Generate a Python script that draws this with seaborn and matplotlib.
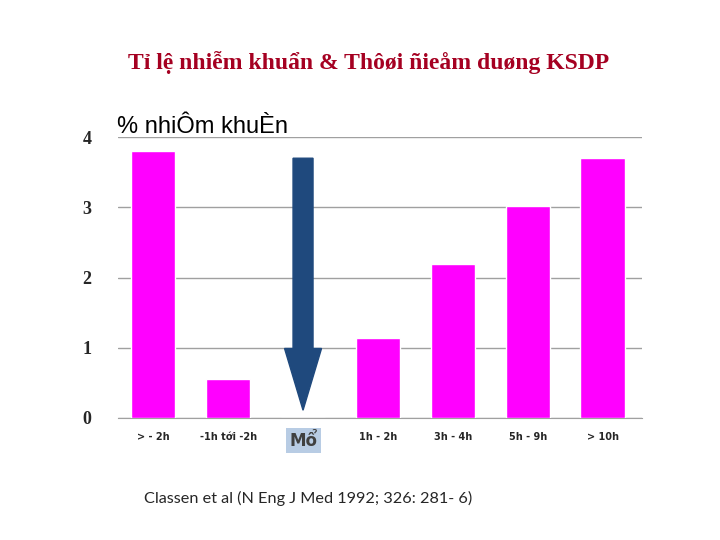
import matplotlib
matplotlib.use("Agg")
import matplotlib.pyplot as plt
import seaborn as sns
import pandas as pd

categories = ["> - 2h", "-1h tới -2h", "Mổ", "1h - 2h", "3h - 4h", "5h - 9h", "> 10h"]
rates = [3.80, 0.55, 0.0, 1.14, 2.19, 3.02, 3.70]

df = pd.DataFrame({"cat": categories, "rate": rates})

sns.set_style("white")
fig = plt.figure(figsize=(7.2, 5.4), dpi=100)
ax = fig.add_axes([0.164, 0.226, 0.728, 0.520])

sns.barplot(data=df, x="cat", y="rate", color="#FF00FF", saturation=1,
            width=0.59, ax=ax, zorder=3)

ax.set_ylim(0, 4)
ax.set_xlim(-0.47, 6.53)
ax.set_yticks([0, 1, 2, 3, 4])
ax.set_yticklabels(["0", "1", "2", "3", "4"], fontfamily="Liberation Serif",
                   fontweight="bold", fontsize=13)
ax.yaxis.grid(True, color="#A0A0A0", linewidth=1, zorder=0)
for s in ["top", "right", "left"]:
    ax.spines[s].set_visible(False)
ax.spines["bottom"].set_color("#A0A0A0")
ax.tick_params(axis="y", length=5, color="#A0A0A0", pad=14)
ax.tick_params(axis="x", length=0, pad=10)
ax.set_xlabel("")
ax.set_ylabel("")

for i, lab in enumerate(ax.get_xticklabels()):
    if categories[i] == "Mổ":
        lab.set_fontsize(12)
        lab.set_fontweight("bold")
        lab.set_color("#404040")
        lab.set_bbox(dict(facecolor="#B8CCE4", edgecolor="none", pad=2.5))
    else:
        lab.set_fontsize(7)
        lab.set_fontweight("bold")

# arrow at surgery time
mo = categories.index("Mổ")
ax.arrow(mo, 3.70, 0, 0.11 - 3.70, width=0.267, head_width=0.494,
         head_length=0.88, length_includes_head=True, color="#1F497D",
         zorder=4)

ax.text(-0.002, 1.036, "% nhiÔm khuÈn", transform=ax.transAxes,
        fontsize=17, fontfamily="Liberation Sans", va="center", ha="left",
        color="black")

fig.text(0.512, 0.885, "Tỉ lệ nhiễm khuẩn & Thôøi ñieåm duøng KSDP",
         ha="center", va="center", fontsize=17, fontweight="bold",
         color="#A50021", fontfamily="Liberation Serif")

fig.text(0.2, 0.077, "Classen et al (N Eng J Med 1992; 326: 281- 6)",
         fontsize=11.7, fontfamily="Lato", ha="left", va="center")

fig.savefig("out.png", dpi=100)
